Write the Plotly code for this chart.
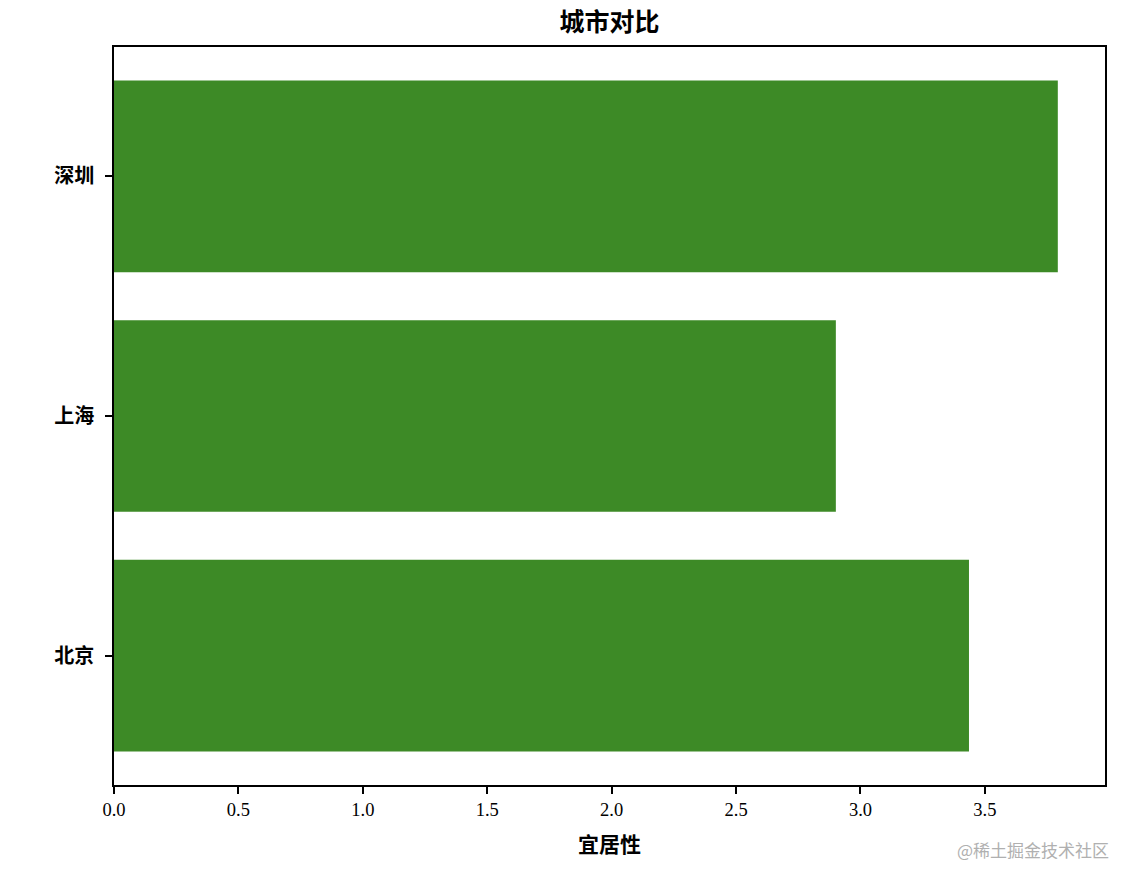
import plotly.graph_objects as go

cities = ['北京', '上海', '深圳']
livability = [3.436, 2.901, 3.793]
x_ticks = [0.0, 0.5, 1.0, 1.5, 2.0, 2.5, 3.0, 3.5]

font_family = "Liberation Serif, Noto Sans CJK SC, serif"

# the page body adds an 8px offset, so margins are shifted to compensate
fig = go.Figure(go.Bar(
    x=livability,
    y=cities,
    orientation='h',
    width=0.8,
    marker=dict(color='#3d8a26', line=dict(width=0)),
))

fig.update_layout(
    width=1136, height=884,
    margin=dict(l=106, r=39, t=39, b=107),
    paper_bgcolor='white', plot_bgcolor='white',
    font=dict(family=font_family, color='black', size=18),
    title=dict(text='<b>城市对比</b>', x=(106 + 1097) / 2 / 1136, xanchor='center',
               y=1 - 14 / 884, yanchor='middle', font=dict(size=25)),
    showlegend=False,
)

fig.update_xaxes(
    range=[0, max(livability) * 1.05],
    tickvals=x_ticks,
    ticktext=['%.1f' % v for v in x_ticks],
    ticks='outside', ticklen=7, tickwidth=1.5, tickcolor='black',
    showline=True, linecolor='black', linewidth=1.5, mirror=True,
    showgrid=False, zeroline=False,
    tickfont=dict(size=18.5),
    title=dict(text='<b>宜居性</b>', font=dict(size=21), standoff=18),
)
fig.update_yaxes(
    range=[-0.54, 2.54],
    ticks='outside', ticklen=7, tickwidth=1.5, tickcolor='black',
    showline=True, linecolor='black', linewidth=1.5, mirror=True,
    showgrid=False, zeroline=False,
    tickvals=cities,
    ticktext=['<b>%s</b>' % c for c in cities],
    tickfont=dict(size=20),
    ticklabelstandoff=7,
)

fig.add_annotation(
    text='@稀土掘金技术社区', xref='paper', yref='paper',
    x=1 + 6 / 991, y=-64 / 738, xanchor='right', yanchor='middle',
    showarrow=False, font=dict(family='Noto Sans CJK SC', size=17, color='#b0b0b0'),
)

fig.write_html("out.html")
